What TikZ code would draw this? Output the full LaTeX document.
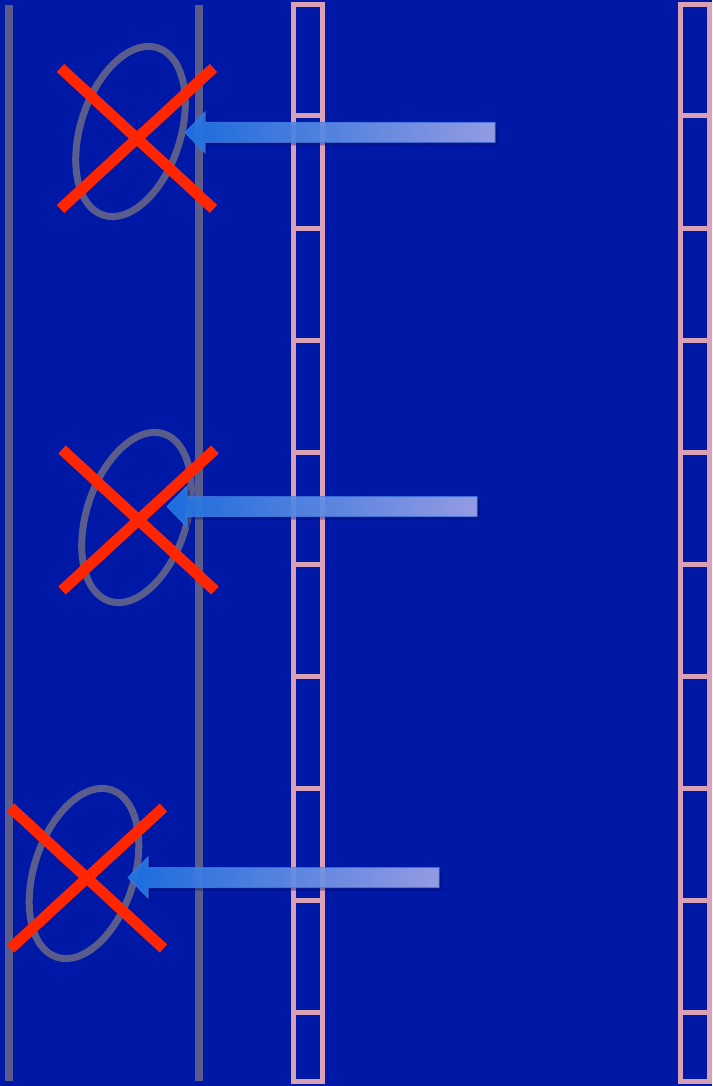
\documentclass[tikz,border=0pt]{standalone}
\usepackage{xcolor}
\definecolor{BgBlue}{RGB}{0,24,166}
\definecolor{ShadowBlue}{RGB}{0,10,90}
\definecolor{RailGray}{RGB}{90,92,140}
\definecolor{LadderPink}{RGB}{218,160,182}
\definecolor{CrossRed}{RGB}{255,38,0}
\definecolor{ArrowBlue}{RGB}{30,118,230}
\definecolor{ArrowLight}{RGB}{165,170,236}
\definecolor{ArrowEdge}{RGB}{70,125,225}
\usepackage{tikz}
\usetikzlibrary{shapes.geometric, shapes.misc, calc}
\tikzset{
  % gray vertical rails
  rail/.style={line width=7.5pt, RailGray},
  % pink ladders
  ladder/.style={line width=5pt, LadderPink},
  % tilted rings
  ring/.style={
    ellipse, draw=RailGray, line width=7pt,
    minimum width=100pt, minimum height=176pt,
    inner sep=0pt, rotate=-18
  },
  % red crosses
  crossmark/.style={
    cross out, draw=CrossRed, line width=11pt,
    minimum width=142pt, minimum height=130pt, inner sep=0pt
  },
  % block arrows
  blockarr/.style={
    left color=ArrowBlue, right color=ArrowLight,
    draw=ArrowEdge, line width=1pt,
    fill opacity=0.9, draw opacity=0.7
  },
  % soft shadow under arrows
  arrshadow/.style={fill=ShadowBlue, opacity=0.35},
}

\begin{document}
\begin{tikzpicture}[x=1pt, y=-1pt]

  \useasboundingbox (0,0) rectangle (712,1086);
  \fill[BgBlue] (0,0) rectangle (712,1086);

  %% rails
  \draw[rail] (9,5) -- (9,1081);
  \draw[rail] (199,5) -- (199,1081);

  %% ladders
  \draw[ladder] (293.5,5) rectangle (322,1081);
  \draw[ladder] (680.5,5) rectangle (709,1081);
  \foreach \k in {1,...,9} {
    \draw[ladder] (293.5,4+112*\k) -- (322,4+112*\k);
    \draw[ladder] (680.5,4+112*\k) -- (709,4+112*\k);
  }

  %% rings
  \node[ring] (e1) at (130.5,131.5) {};
  \node[ring] (e2) at (136.5,517.5) {};
  \node[ring] (e3) at (84,873.5) {};

  %% crosses
  \node[crossmark] (x1) at (137,138.5) {};
  \node[crossmark] (x2) at (138.5,520) {};
  \node[crossmark] (x3) at (87,878) {};

  %% arrow ends
  \coordinate (h1) at (185,132.5);
  \coordinate (t1) at (495,132.5);
  \coordinate (h2) at (167,506.5);
  \coordinate (t2) at (477,506.5);
  \coordinate (h3) at (128,877.5);
  \coordinate (t3) at (439,877.5);

  %% arrows
  \foreach \h/\t in {h1/t1, h2/t2, h3/t3} {
    \fill[arrshadow] ($(\h)+(3,3)$) -- ($(\h)+(23,-17.5)$) -- ($(\h)+(23,-7)$)
      -- ($(\t)+(3,-7)$) -- ($(\t)+(3,13)$) -- ($(\h)+(23,13)$)
      -- ($(\h)+(23,23.5)$) -- cycle;
    \shadedraw[blockarr] (\h) -- ($(\h)+(20,-20.5)$) -- ($(\h)+(20,-10)$)
      -- ($(\t)+(0,-10)$) -- ($(\t)+(0,10)$) -- ($(\h)+(20,10)$)
      -- ($(\h)+(20,20.5)$) -- cycle;
  }

\end{tikzpicture}
\end{document}
